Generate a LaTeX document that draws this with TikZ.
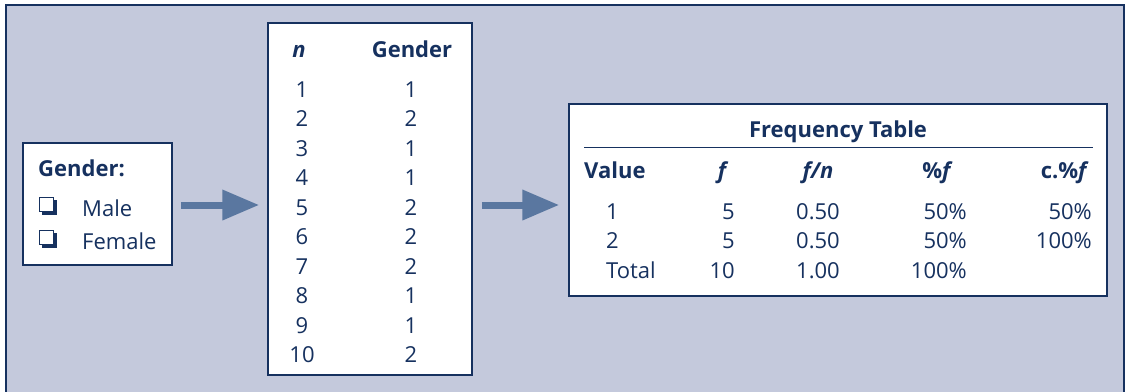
\documentclass[tikz,border=0pt]{standalone}
\usepackage{fontspec}
\setmainfont{Open Sans}
\usetikzlibrary{arrows.meta}
\definecolor{bg}{HTML}{C4C9DC}
\definecolor{navy}{HTML}{16315F}
\definecolor{arr}{HTML}{5A77A0}
\newcommand{\fs}{\fontsize{22}{26}\selectfont}
\begin{document}
\begin{tikzpicture}[x=1pt,y=-1pt,
  font=\fs,
  box/.style={draw=navy, fill=white, line width=1.5pt, inner sep=0pt},
  t/.style={inner sep=0pt, text=navy},
  bigarrow/.style={arr, line width=7pt, -{Triangle[length=37pt,width=29pt]}},
  cbshadow/.style={fill=navy},
  cbbox/.style={draw=navy, fill=white, line width=1pt}]
\useasboundingbox (0,0) rectangle (1127,391);
\clip (0,0) rectangle (1127,391);
\fill[bg, draw=navy, line width=2pt] (6,5) rectangle (1124,400);

% boxes
\node[box, minimum width=149pt, minimum height=122pt] (g) at (97.5,204) {};
\node[box, minimum width=204pt, minimum height=352pt] (d) at (370,199) {};
\node[box, minimum width=538pt, minimum height=192pt] (fq) at (838,200) {};

% gender box content
\node[t, anchor=base west, font=\fs\bfseries] (gt) at (38,176) {Gender:};
\fill[cbshadow] (42,200) rectangle (57,215);
\draw[cbbox] (39.5,197.5) rectangle (53,211);
\fill[cbshadow] (42,233) rectangle (57,248);
\draw[cbbox] (39.5,230.5) rectangle (53,244);
\node[t, anchor=base west] (male) at (82,216) {Male};
\node[t, anchor=base west] (female) at (82,249) {Female};

% data box content
\node[t, anchor=base, font=\fs\bfseries\itshape] (nh) at (299,57) {n};
\node[t, anchor=base, font=\fs\bfseries] (gh) at (412,57) {Gender};
\foreach \i/\v [count=\k from 0] in {1/1,2/2,3/1,4/1,5/2,6/2,7/2,8/1,9/1,10/2}{
  \node[t, anchor=base] (n\i) at (302,97+29.5*\k) {\i};
  \node[t, anchor=base] (v\i) at (411,97+29.5*\k) {\v};
}

% frequency table content
\node[t, anchor=base, font=\fs\bfseries] (ft) at (838,137) {Frequency Table};
\draw[navy, line width=1pt] (584,147) -- (1093,147);
\node[t, anchor=base west, font=\fs\bfseries] (hv) at (584,178) {Value};
\node[t, anchor=base, font=\fs\bfseries\itshape] (hf) at (722,178) {f};
\node[t, anchor=base, font=\fs\bfseries\itshape] (hfn) at (818,178) {f/n};
\node[t, anchor=base east, font=\fs\bfseries] (hp) at (953,178) {\%\textit{f}};
\node[t, anchor=base east, font=\fs\bfseries] (hc) at (1089,178) {c.\%\textit{f}};

\node[t, anchor=base west] (r1a) at (606,219) {1};
\node[t, anchor=base east] (r1b) at (735,219) {5};
\node[t, anchor=base] (r1c) at (818,219) {0.50};
\node[t, anchor=base east] (r1d) at (967,219) {50\%};
\node[t, anchor=base east] (r1e) at (1092,219) {50\%};

\node[t, anchor=base west] (r2a) at (606,248) {2};
\node[t, anchor=base east] (r2b) at (735,248) {5};
\node[t, anchor=base] (r2c) at (818,248) {0.50};
\node[t, anchor=base east] (r2d) at (967,248) {50\%};
\node[t, anchor=base east] (r2e) at (1092,248) {100\%};

\node[t, anchor=base west] (r3a) at (606,278) {Total};
\node[t, anchor=base east] (r3b) at (735,278) {10};
\node[t, anchor=base] (r3c) at (818,278) {1.00};
\node[t, anchor=base east] (r3d) at (967,278) {100\%};

% arrows
\draw[bigarrow, shorten <=8pt, shorten >=8pt] ([yshift=-1pt]g.east) -- ([yshift=-1pt]g.east -| d.west);
\draw[bigarrow, shorten <=9pt, shorten >=9pt] ([yshift=-1pt]g.east -| d.east) -- ([yshift=-1pt]g.east -| fq.west);
\end{tikzpicture}
\end{document}
